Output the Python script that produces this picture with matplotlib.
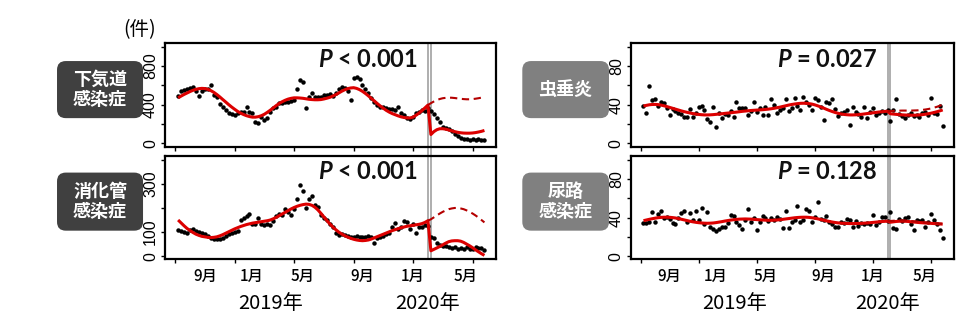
import numpy as np
import matplotlib
matplotlib.use('Agg')
import matplotlib.pyplot as plt
import matplotlib.transforms as mtransforms
from matplotlib.patches import FancyBboxPatch

plt.rcParams['font.family'] = ['Noto Sans CJK JP', 'DejaVu Sans']
plt.rcParams['mathtext.fontset'] = 'custom'
plt.rcParams['mathtext.it'] = 'Lato:italic:bold'
plt.rcParams['mathtext.rm'] = 'Lato:bold'

# ========== データ ==========
weeks = np.arange(1, 105)       # 週番号 (2018年7月〜2020年6月)
interv_weeks = [85, 86]         # 介入時期 (2020年3月)

# 下気道感染症
resp_pts = [493, 545, 551, 558, 569, 579, 545, 490, 545, 558,
            560, 603, 500, 483, 407, 380, 345, 317, 303, 293,
            310, 328, 328, 380, 328, 317, 224, 214, 269, 241,
            259, 328, 362, 380, 414, 420, 431, 431, 440, 448,
            558, 655, 638, 369, 476, 524, 483, 476, 483, 500,
            500, 510, 490, 524, 560, 579, 569, 545, 448, 680,
            688, 660, 605, 560, 520, 470, 431, 400, 379, 372,
            365, 358, 352, 345, 372, 317, 293, 265, 248, 269,
            310, 328, 345, 335, 360,
            330, 300, 259, 224, 170, 160, 150, 125, 100, 78,
            55, 40, 48, 35, 45, 35, 40, 35, 30]
resp_fit = [470, 488, 505, 520, 535, 548, 558, 565, 568, 566,
            558, 545, 527, 505, 480, 453, 427, 400, 375, 352,
            330, 312, 297, 285, 276, 270, 270, 275, 285, 300,
            320, 342, 366, 390, 412, 430, 445, 457, 465, 470,
            470, 468, 465, 460, 455, 452, 450, 450, 452, 458,
            466, 475, 488, 503, 520, 538, 553, 565, 572, 575,
            568, 555, 537, 515, 490, 463, 437, 410, 385, 362,
            340, 322, 307, 295, 283, 273, 266, 262, 262, 270,
            290, 312, 338, 366, 395,
            90, 120, 140, 150, 150, 145, 137, 128, 120, 113,
            108, 105, 104, 104, 106, 110, 116, 123, 132]
resp_cf = [395, 415, 432, 447, 458, 466, 470, 472, 471, 468,
           464, 460, 457, 455, 455, 457, 461, 466, 472, 478]

# 消化管感染症
gi_pts = [108, 103, 100, 97, 108, 111, 104, 100, 97, 92,
          85, 74, 69, 69, 72, 74, 84, 92, 97, 101,
          104, 150, 157, 167, 175, 133, 133, 157, 135, 129,
          133, 129, 147, 167, 175, 170, 194, 185, 171, 194,
          236, 296, 272, 199, 236, 250, 212, 203, 171, 157,
          150, 133, 122, 94, 87, 92, 87, 83, 78, 80,
          83, 78, 80, 78, 82, 78, 55, 74, 78, 83,
          90, 97, 119, 139, 111, 119, 147, 143, 111, 133,
          94, 122, 119, 129, 125,
          80, 74, 53, 46, 42, 40, 36, 32, 38, 28,
          32, 28, 36, 30, 28, 39, 32, 35, 25]
gi_fit = [150, 138, 126, 115, 106, 98, 91, 86, 82, 80,
          78, 77, 78, 80, 84, 89, 95, 101, 107, 113,
          118, 123, 127, 131, 134, 137, 139, 141, 143, 145,
          147, 150, 155, 161, 168, 175, 182, 189, 196, 202,
          207, 211, 214, 216, 215, 211, 203, 192, 178, 163,
          148, 134, 121, 110, 100, 92, 85, 79, 74, 70,
          67, 65, 64, 65, 67, 71, 76, 81, 86, 91,
          96, 101, 106, 110, 114, 118, 121, 124, 126, 128,
          130, 132, 135, 140, 147,
          22, 28, 34, 40, 47, 54, 60, 63, 64, 64,
          62, 57, 50, 43, 35, 26, 18, 10, 3]
gi_cf = [147, 153, 161, 169, 177, 184, 190, 195, 198, 200,
         200, 198, 195, 190, 184, 177, 169, 160, 150, 140]

# 虫垂炎
app_pts = [38.6, 31.7, 59.3, 44.8, 45.5, 38.6, 43.1, 41.4, 36, 29.3,
           35.2, 33.8, 31.7, 30.3, 27.6, 26.9, 35.2, 27.6, 31, 37.2,
           38.6, 34.5, 24.8, 22.4, 37.9, 17.2, 31.7, 25.9, 30.3, 29,
           33.8, 27.6, 43.1, 36.2, 36.2, 36.2, 29.3, 33, 43.1, 32.8,
           36.2, 29.3, 37.2, 29.3, 45.5, 39.7, 31, 34.5, 36, 45.5,
           33.8, 36.2, 46.6, 38.6, 34.5, 48.3, 43.1, 40, 34.5, 46.6,
           44.8, 37.9, 24.1, 43.1, 41.4, 45.5, 35, 28.3, 31, 32.8,
           34.5, 19, 37.2, 32.8, 30, 26.9, 37.9, 25.9, 32.8, 36.2,
           29.3, 31.7, 33, 31, 34.5,
           23.4, 34.5, 45.5, 30, 28.3, 25.9, 29.3, 31.7, 28, 29.3,
           27.6, 31, 32, 29.3, 46.6, 31, 30, 38.6, 17.9]
app_fit = [38.5, 39.2, 39.8, 40.1, 40.2, 40, 39.5, 38.8, 38, 37.1,
           36.2, 35.3, 34.4, 33.5, 32.7, 32, 31.3, 30.7, 30.2, 29.8,
           29.5, 29.3, 29.3, 29.4, 29.6, 29.9, 30.2, 30.5, 30.9, 31.2,
           31.5, 31.9, 32.2, 32.6, 33, 33.3, 33.6, 33.9, 34.1, 34.3,
           34.5, 34.7, 35, 35.3, 35.7, 36.2, 36.8, 37.4, 38.1, 38.8,
           39.5, 40.1, 40.6, 41, 41.3, 41.4, 41.3, 41, 40.5, 39.7,
           38.7, 37.6, 36.4, 35.1, 33.9, 32.8, 31.8, 31, 30.3, 29.8,
           29.5, 29.3, 29.3, 29.4, 29.6, 29.9, 30.3, 30.7, 31.1, 31.5,
           31.9, 32.3, 32.6, 32.9, 33.1,
           30.5, 30.2, 29.9, 29.6, 29.4, 29.2, 29.1, 29, 29, 29.1,
           29.3, 29.6, 30, 30.5, 31.1, 31.8, 32.6, 33.5, 34.5]
app_cf = [33.1, 33.3, 33.5, 33.6, 33.7, 33.8, 33.8, 33.8, 33.8, 33.9,
          34, 34.2, 34.5, 34.9, 35.4, 36, 36.8, 37.7, 38.8, 40]

# 尿路感染症
uti_pts = [34.7, 34.7, 35.8, 46.2, 35.8, 43.8, 47.2, 39.2, 41, 38.2,
           34.7, 33.3, 39.2, 45.1, 47.2, 35.8, 45.1, 38, 47.2, 37.5,
           49.7, 33.3, 46.2, 29.9, 27.8, 26.4, 27.8, 30, 30.6, 34.7,
           42.7, 41.7, 35.8, 32.3, 27.8, 37, 48.6, 35.8, 39.2, 27.1,
           35.8, 41.7, 39.2, 36, 39.2, 37.5, 41, 38.2, 28.8, 47.2,
           28.8, 35.8, 38, 52.1, 35.8, 37.5, 48.6, 47.2, 35.8, 41,
           56.6, 39, 37.5, 41.7, 35.8, 33.3, 30.6, 30.6, 35.8, 34,
           38.2, 37.5, 29.9, 36.8, 31.2, 34, 33, 34.7, 33.3, 42.7,
           32.3, 35.8, 40.3, 41, 36,
           46.2, 28.8, 27.8, 38.2, 36, 39.2, 41, 33.3, 27.1, 37,
           36.8, 37.5, 30.6, 35, 43.8, 37.5, 33, 27.1, 18.4]
uti_fit = [36.8, 37.5, 38.2, 38.8, 39.4, 39.9, 40.2, 40.4, 40.4, 40.3,
           40, 39.6, 39, 38.3, 37.6, 36.9, 36.2, 35.6, 35.1, 34.7,
           34.4, 34.2, 34.1, 34.2, 34.4, 34.8, 35.3, 35.8, 36.4, 36.9,
           37.4, 37.8, 38.1, 38.4, 38.5, 38.6, 38.5, 38.4, 38.2, 37.9,
           37.7, 37.5, 37.3, 37.2, 37.2, 37.3, 37.5, 37.8, 38.2, 38.6,
           39, 39.4, 39.8, 40.1, 40.3, 40.4, 40.4, 40.2, 39.8, 39.3,
           38.7, 38, 37.3, 36.6, 36, 35.4, 34.9, 34.5, 34.2, 34,
           33.9, 33.8, 33.8, 33.8, 33.9, 34, 34.2, 34.4, 34.7, 35,
           35.3, 35.6, 35.9, 36.1, 36.3,
           35.2, 35.6, 36, 36.2, 36.3, 36.2, 36, 35.7, 35.4, 35.1,
           34.8, 34.6, 34.4, 34.2, 34, 33.8, 33.6, 33.4, 33.2]
uti_cf = [36.3, 36.5, 36.7, 36.9, 37, 37, 36.9, 36.7, 36.5, 36.2,
          35.9, 35.6, 35.3, 35, 34.7, 34.4, 34.2, 34, 33.8, 33.6]

# ラベル類
panel_names = ['下気道\n感染症', '消化管\n感染症', '虫垂炎', '尿路\n感染症']
p_texts = [r'$P$ < 0.001', r'$P$ < 0.001', r'$P$ = 0.027', r'$P$ = 0.128']
yticks_list = [[0, 200, 400, 600, 800, 1000], [0, 100, 200, 300, 400],
               [0, 20, 40, 60, 80, 100], [0, 20, 40, 60, 80, 100]]
ylabels_list = [['0', '', '400', '', '800', ''], ['0', '100', '', '300', ''],
                ['0', '', '40', '', '80', ''], ['0', '', '40', '', '80', '']]
ylims = [(-36, 1038), (-12, 416), (-3.6, 103.8), (-3, 104)]
month_labels = ['9月', '1月', '5月', '9月', '1月', '5月']
month_pos = [10, 25.7, 43, 62.9, 80, 97.8]
year_labels = ['2019年', '2020年']
year_pos = [32.2, 85]

# ========== 描画 ==========
fig = plt.figure(figsize=(9.73, 3.30), dpi=100)

axes_rects = [[0.1696, 0.5555, 0.3402, 0.3142],
              [0.1696, 0.2152, 0.3402, 0.3121],
              [0.6482, 0.5555, 0.3323, 0.3142],
              [0.6482, 0.2152, 0.3323, 0.3121]]
box_rects = [[0.0586, 0.642, 0.0884, 0.173],
             [0.0586, 0.301, 0.0884, 0.176],
             [0.5368, 0.642, 0.0891, 0.173],
             [0.5368, 0.301, 0.0891, 0.176]]
box_colors = ['#404040', '#404040', '#808080', '#808080']

all_pts = [resp_pts, gi_pts, app_pts, uti_pts]
all_fit = [resp_fit, gi_fit, app_fit, uti_fit]
all_cf = [resp_cf, gi_cf, app_cf, uti_cf]

for i in range(4):
    ax = fig.add_axes(axes_rects[i])
    ax.plot(weeks, all_pts[i], 'o', color='black', ms=3.2, mew=0, zorder=3)
    ax.plot(weeks, all_fit[i], color='#dc0000', lw=2.2, zorder=4,
            solid_capstyle='butt')
    ax.plot(weeks[interv_weeks[0] - 1:], all_cf[i], color='#b40000', lw=1.5,
            linestyle=(0, (3.5, 2.2)), zorder=4)
    top = i in (0, 2)
    for xv in interv_weeks:
        ax.axvline(xv, ymin=-0.1 if top else 0, ymax=1, color='#999999',
                   lw=1.1, clip_on=False, zorder=2)
    ax.set_xlim(-3.4, 107.9)
    ax.set_ylim(*ylims[i])
    ax.set_xticks([0, 20, 40, 60, 80, 100])
    ax.set_xticklabels([])
    ax.set_yticks(yticks_list[i])
    ax.set_yticklabels(ylabels_list[i], rotation=90, va='center',
                       family='Liberation Sans', fontsize=11.5)
    ax.tick_params(direction='out', length=3, width=1, pad=2)
    for sp in ax.spines.values():
        sp.set_linewidth(1.6)

    trans = mtransforms.blended_transform_factory(ax.transData, ax.transAxes)
    ax.text(81.5, 0.845, p_texts[i], transform=trans, ha='right', va='center',
            fontsize=17, family='Lato', fontweight='bold', color='#111111')

    # ラベルボックス
    bx, by, bw, bh = box_rects[i]
    patch = FancyBboxPatch((bx, by), bw, bh, transform=fig.transFigure,
                           boxstyle='round,pad=0,rounding_size=0.009',
                           mutation_aspect=973 / 330, facecolor=box_colors[i],
                           edgecolor='none')
    fig.patches.append(patch)
    fig.text(bx + bw / 2, by + bh / 2, panel_names[i], ha='center', va='center',
             color='white', fontsize=13, fontweight='bold', linespacing=1.1,
             multialignment='center')

    # 月・年ラベル (下段のみ)
    if not top:
        tr = mtransforms.blended_transform_factory(ax.transData, fig.transFigure)
        for lab, pos in zip(month_labels, month_pos):
            ax.text(pos, 0.1615, lab, transform=tr, ha='center', va='center',
                    fontsize=11, fontweight='medium', clip_on=False)
        for lab, pos in zip(year_labels, year_pos):
            ax.text(pos, 0.0788, lab, transform=tr, ha='center', va='center',
                    fontsize=14.5, clip_on=False)

fig.text(0.1439, 0.909, '(件)', ha='center', va='center', fontsize=14)

plt.savefig('out.png', dpi=100)
